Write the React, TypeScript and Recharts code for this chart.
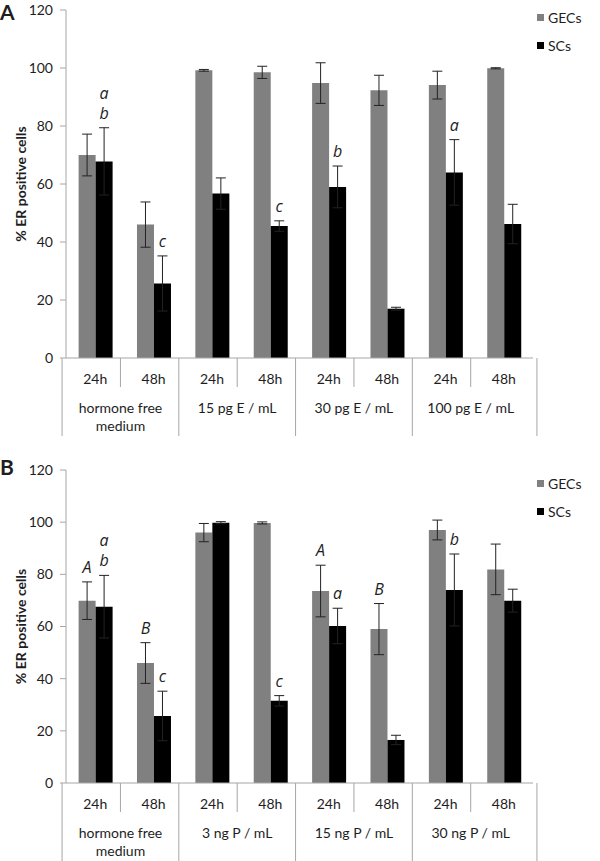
import React from "react";
import { BarChart, Bar, XAxis, YAxis, ErrorBar, LabelList, Legend } from "recharts";

// shared categories
const times = ["24h", "48h", "24h", "48h", "24h", "48h", "24h", "48h"];
const yTicks = [0, 20, 40, 60, 80, 100, 120];

// panel A - estradiol
const groupsA = ["hormone free\nmedium", "15 pg E / mL", "30 pg E / mL", "100 pg E / mL"];
const gecA = [70, 46, 99.2, 98.5, 94.8, 92.3, 94.1, 99.9];
const gecErrA = [7.2, 7.8, 0.3, 2.1, 7, 5.2, 4.8, 0.2];
const scA = [67.8, 25.7, 56.7, 45.5, 59, 17, 64, 46.2];
const scErrA = [11.6, 9.5, 5.4, 1.8, 7.2, 0.5, 11.3, 6.8];
const gecSigA = ["", "", "", "", "", "", "", ""];
const scSigA = ["a b", "c", "", "c", "b", "", "a", ""];

// panel B - progesterone
const groupsB = ["hormone free\nmedium", "3 ng P / mL", "15 ng P / mL", "30 ng P / mL"];
const gecB = [69.9, 46, 96, 99.7, 73.6, 59, 97, 81.9];
const gecErrB = [7.2, 7.8, 3.5, 0.4, 9.9, 9.8, 3.8, 9.7];
const scB = [67.6, 25.7, 99.8, 31.5, 60.2, 16.5, 74, 69.9];
const scErrB = [12, 9.5, 0.4, 2, 6.8, 1.8, 13.8, 4.4];
const gecSigB = ["A", "B", "", "", "A", "B", "", ""];
const scSigB = ["a b", "c", "", "c", "a", "", "b", ""];

const FONT = 'Lato, "Open Sans", sans-serif';
const GRAY = "#a6a6a6";
const TEXT = "#1e1e1e";
const W = 600;
const Y_AXIS_W = 66;
const RIGHT = 4;
const BAND = (W - Y_AXIS_W - RIGHT) / times.length;

function buildRows(gec: number[], gecErr: number[], sc: number[], scErr: number[], gecSig: string[], scSig: string[]) {
  return times.map((t, i) => ({
    time: t,
    gec: gec[i],
    gecErr: gecErr[i],
    sc: sc[i],
    scErr: scErr[i],
    gecSig: gecSig[i],
    scSig: scSig[i],
  }));
}

// significance letters sit above the error bar cap
const makeSigLabel = (vals: number[], errs: number[]) => (props: any) => {
  const { index, value } = props;
  if (!value) return null;
  const vb = props.viewBox || props;
  const x = Number(vb.x ?? props.x);
  const y = Number(vb.y ?? props.y);
  const w = Number(vb.width ?? props.width);
  const h = Number(vb.height ?? props.height);
  const k = h / vals[index];
  const top = y - errs[index] * k;
  const lines = String(value).split(" ");
  return (
    <g>
      {lines.map((s, j) => (
        <text
          key={j}
          x={x + w / 2}
          y={top - 15 - (lines.length - 1 - j) * 20}
          textAnchor="middle"
          dominantBaseline="central"
          fontStyle="italic"
          fontSize={16}
          fontFamily='"Open Sans", sans-serif'
          fill={TEXT}
        >
          {s}
        </text>
      ))}
    </g>
  );
};

// two-level category axis: time row + treatment group row with separators
const makeTick = (axisY: number, groups: string[]) => (props: any) => {
  const { x, payload } = props;
  const i = props.index ?? payload.index;
  const cx = Number(x);
  const left = cx - BAND / 2;
  const n = times.length;
  const labelLines = i % 2 === 1 ? groups[(i - 1) / 2].split("\n") : [];
  return (
    <g>
      <text x={cx} y={axisY + 20} textAnchor="middle" dominantBaseline="central" fontSize={14} fontFamily={FONT} fill={TEXT}>
        {payload.value}
      </text>
      <line x1={left} y1={axisY} x2={left} y2={axisY + (i % 2 === 0 ? 78 : 29)} stroke={GRAY} />
      {i === n - 1 && <line x1={cx + BAND / 2} y1={axisY} x2={cx + BAND / 2} y2={axisY + 78} stroke={GRAY} />}
      {labelLines.map((s, j) => (
        <text key={j} x={left} y={axisY + 49 + j * 18.5} textAnchor="middle" dominantBaseline="central" fontSize={14} fontFamily={FONT} fill={TEXT}>
          {s}
        </text>
      ))}
    </g>
  );
};

const yLabel = (props: any) => {
  const vb = props.viewBox;
  const cy = vb.y + vb.height / 2;
  return (
    <text x={20} y={cy} transform={`rotate(-90, 20, ${cy})`} textAnchor="middle" dominantBaseline="central" fontSize={14} fontWeight="bold" fontFamily={FONT} fill={TEXT}>
      % ER positive cells
    </text>
  );
};

const renderLegend = (props: any) => (
  <div style={{ fontFamily: FONT, fontSize: 14, color: TEXT }}>
    {(props.payload || []).map((p: any) => (
      <div key={p.value} style={{ display: "flex", alignItems: "center", height: 28 }}>
        <span style={{ display: "inline-block", width: 7, height: 7, background: p.color, marginRight: 4 }} />
        <span>{p.value}</span>
      </div>
    ))}
  </div>
);

interface PanelProps {
  height: number;
  top: number;
  axisH: number;
  legendTop: number;
  groups: string[];
  gec: number[];
  gecErr: number[];
  sc: number[];
  scErr: number[];
  gecSig: string[];
  scSig: string[];
}

function Panel({ height, top, axisH, legendTop, groups, gec, gecErr, sc, scErr, gecSig, scSig }: PanelProps) {
  const data = buildRows(gec, gecErr, sc, scErr, gecSig, scSig);
  const axisY = height - axisH;
  return (
    <BarChart
      width={W}
      height={height}
      data={data}
      margin={{ top, right: RIGHT, bottom: 0, left: 0 }}
      barCategoryGap="21.6%"
      barGap={0}
    >
      <XAxis
        dataKey="time"
        interval={0}
        height={axisH}
        tickLine={false}
        axisLine={{ stroke: GRAY }}
        tick={makeTick(axisY, groups)}
      />
      <YAxis
        domain={[0, 120]}
        ticks={yTicks}
        interval={0}
        width={Y_AXIS_W}
        tickSize={6}
        tickMargin={7}
        axisLine={{ stroke: GRAY }}
        tickLine={{ stroke: GRAY }}
        tick={{ fontSize: 14, fill: TEXT, fontFamily: FONT }}
        label={{ content: yLabel }}
      />
      <Legend
        layout="horizontal"
        verticalAlign="middle"
        align="right"
        content={renderLegend}
        wrapperStyle={{ left: 537, top: legendTop, width: 63 }}
      />
      <Bar dataKey="gec" name="GECs" fill="#808080" isAnimationActive={false}>
        <ErrorBar dataKey="gecErr" width={5} stroke="#222" strokeWidth={1} isAnimationActive={false} />
        <LabelList dataKey="gecSig" content={makeSigLabel(gec, gecErr)} />
      </Bar>
      <Bar dataKey="sc" name="SCs" fill="#000000" isAnimationActive={false}>
        <ErrorBar dataKey="scErr" width={5} stroke="#222" strokeWidth={1} isAnimationActive={false} />
        <LabelList dataKey="scSig" content={makeSigLabel(sc, scErr)} />
      </Bar>
    </BarChart>
  );
}

const letterStyle: React.CSSProperties = {
  position: "absolute",
  left: 0,
  fontFamily: FONT,
  fontWeight: "bold",
  fontSize: 21,
  lineHeight: "24px",
  color: TEXT,
};

export default function App() {
  return (
    <div style={{ position: "absolute", left: 0, top: 0, width: 600, height: 861, background: "#fff", overflow: "hidden" }}>
      <div style={{ position: "absolute", left: 0, top: 0 }}>
        <Panel height={440} top={10} axisH={82} legendTop={3} groups={groupsA} gec={gecA} gecErr={gecErrA} sc={scA} scErr={scErrA} gecSig={gecSigA} scSig={scSigA} />
      </div>
      <div style={{ position: "absolute", left: 0, top: 440 }}>
        <Panel height={421} top={30} axisH={78} legendTop={29} groups={groupsB} gec={gecB} gecErr={gecErrB} sc={scB} scErr={scErrB} gecSig={gecSigB} scSig={scSigB} />
      </div>
      <div style={{ ...letterStyle, top: 0 }}>A</div>
      <div style={{ ...letterStyle, top: 455 }}>B</div>
    </div>
  );
}
